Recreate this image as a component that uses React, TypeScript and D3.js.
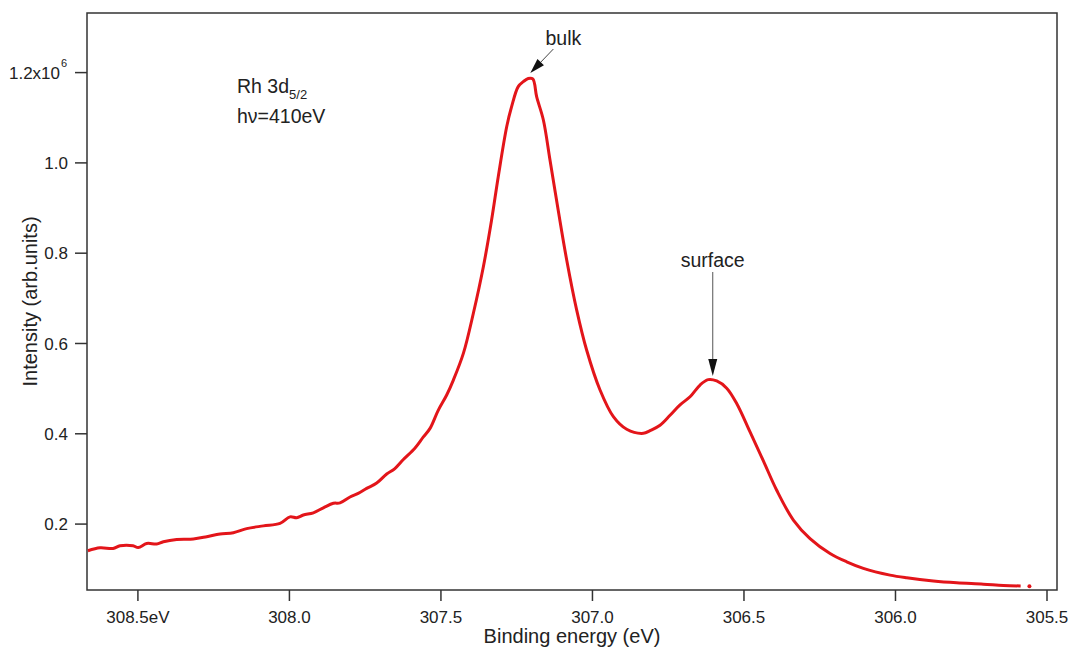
import React from "react";
import * as d3 from "d3";

// Binding energy (eV) and intensity (x10^6 arb. units)
const energy = [
  308.665, 308.625, 308.582, 308.559, 308.516, 308.499, 308.471, 308.438, 308.416, 308.372,
  308.317, 308.273, 308.229, 308.185, 308.141, 308.086, 308.031, 307.998, 307.976, 307.954,
  307.921, 307.888, 307.855, 307.833, 307.8, 307.773, 307.745, 307.712, 307.679, 307.652,
  307.624, 307.586, 307.558, 307.536, 307.509, 307.481, 307.459, 307.426, 307.393, 307.36,
  307.333, 307.311, 307.283, 307.267, 307.245, 307.228, 307.212, 307.197, 307.184, 307.162,
  307.14, 307.113, 307.085, 307.052, 307.019, 306.975, 306.931, 306.887, 306.832, 306.81,
  306.777, 306.744, 306.711, 306.678, 306.645, 306.618, 306.59, 306.557, 306.524, 306.48,
  306.436, 306.392, 306.337, 306.282, 306.216, 306.161, 306.106, 306.018, 305.963, 305.875,
  305.798, 305.71, 305.644, 305.587,
];
const intensity = [
  0.141, 0.1475, 0.146, 0.152, 0.152, 0.148, 0.157, 0.156, 0.161, 0.166,
  0.167, 0.172, 0.178, 0.181, 0.19, 0.196, 0.2015, 0.216, 0.214, 0.22,
  0.225, 0.236, 0.246, 0.247, 0.26, 0.268, 0.279, 0.291, 0.311, 0.323,
  0.343, 0.368, 0.393, 0.412, 0.452, 0.486, 0.519, 0.578, 0.667, 0.77,
  0.873, 0.969, 1.08, 1.124, 1.169, 1.18, 1.187, 1.186, 1.146, 1.095,
  1.006, 0.895, 0.785, 0.674, 0.585, 0.497, 0.438, 0.41, 0.401, 0.407,
  0.419, 0.441, 0.464, 0.482, 0.508, 0.52, 0.517, 0.501, 0.467, 0.404,
  0.34, 0.275, 0.209, 0.168, 0.135, 0.1165, 0.102, 0.087, 0.081, 0.074,
  0.07, 0.067, 0.064, 0.063,
];
const strayPoint = [305.558, 0.0625];

const xTicks = [308.5, 308.0, 307.5, 307.0, 306.5, 306.0, 305.5];
const xTickLabels = ["308.5eV", "308.0", "307.5", "307.0", "306.5", "306.0", "305.5"];
const yTicks = [0.2, 0.4, 0.6, 0.8, 1.0, 1.2];
const yTickLabels = ["0.2", "0.4", "0.6", "0.8", "1.0", "1.2x10"];

const bulkTip = [307.205, 1.199];
const surfaceTip = [306.603, 0.528];

const W = 1071;
const H = 650;
const left = 87, right = 1057, top = 13, bottom = 590;

export default function App() {
  const x = d3.scaleLinear().domain([308.668, 305.467]).range([left, right]);
  const y = d3.scaleLinear().domain([0.054, 1.332]).range([bottom, top]);
  const pts: [number, number][] = energy.map((e, i) => [e, intensity[i]]);
  const line = d3
    .line<[number, number]>()
    .x((d) => x(d[0]))
    .y((d) => y(d[1]))
    .curve(d3.curveCatmullRom.alpha(0.5));

  const font = "Liberation Sans, Arial, Helvetica, sans-serif";
  const axisColor = "#333";

  const bx = x(bulkTip[0]);
  const by = y(bulkTip[1]);
  const sx = x(surfaceTip[0]);
  const sy = y(surfaceTip[1]);

  // bulk arrow geometry
  const bStart = [bx + 23, by - 24];
  const ang = Math.atan2(by - bStart[1], bx - bStart[0]);
  const headLen = 15, headW = 4.5;
  const hb = [bx - headLen * Math.cos(ang), by - headLen * Math.sin(ang)];
  const perp = [-Math.sin(ang), Math.cos(ang)];
  const bulkHead = [
    [bx, by],
    [hb[0] + perp[0] * headW, hb[1] + perp[1] * headW],
    [hb[0] - perp[0] * headW, hb[1] - perp[1] * headW],
  ];

  return (
    <svg
      width={W}
      height={H}
      style={{ position: "fixed", left: 0, top: 0, background: "#fff" }}
      fontFamily={font}
    >
      <rect x={0} y={0} width={W} height={H} fill="#fff" />
      {/* frame */}
      <rect
        x={left}
        y={top}
        width={right - left}
        height={bottom - top}
        fill="none"
        stroke={axisColor}
        strokeWidth={1.5}
      />
      {/* y ticks */}
      {yTicks.map((t, i) => (
        <g key={"y" + t}>
          <line x1={left - 12} x2={left} y1={y(t)} y2={y(t)} stroke={axisColor} strokeWidth={1.5} />
          <text
            x={left - 19 - (i === yTicks.length - 1 ? 8 : 0)}
            y={y(t)}
            dy="0.36em"
            textAnchor="end"
            fontSize={17}
            fill="#222"
          >
            {yTickLabels[i]}
          </text>
          {i === yTicks.length - 1 && (
            <text x={left - 26} y={y(t) - 6} fontSize={11} fill="#222">
              6
            </text>
          )}
        </g>
      ))}
      {/* x ticks */}
      {xTicks.map((t, i) => (
        <g key={"x" + t}>
          <line x1={x(t)} x2={x(t)} y1={bottom} y2={bottom + 11} stroke={axisColor} strokeWidth={1.5} />
          <text x={x(t)} y={623} textAnchor="middle" fontSize={17} fill="#222">
            {xTickLabels[i]}
          </text>
        </g>
      ))}
      {/* axis titles */}
      <text x={(left + right) / 2 + 0} y={643} textAnchor="middle" fontSize={20} fill="#222">
        Binding energy (eV)
      </text>
      <text
        transform={`translate(37, ${(top + bottom) / 2}) rotate(-90)`}
        textAnchor="middle"
        fontSize={20}
        fill="#222"
      >
        Intensity (arb.units)
      </text>
      {/* curve */}
      <path d={line(pts) || ""} fill="none" stroke="#e3151a" strokeWidth={3} strokeLinejoin="round" />
      <circle cx={x(strayPoint[0])} cy={y(strayPoint[1])} r={2} fill="#e3151a" />
      {/* label */}
      <text x={237} y={93} fontSize={19.5} fill="#222">
        Rh 3d
        <tspan fontSize={13} dy={6}>5/2</tspan>
      </text>
      <text x={237} y={123} fontSize={19.5} fill="#222">
        hν=410eV
      </text>
      {/* bulk annotation */}
      <line x1={bStart[0]} y1={bStart[1]} x2={hb[0]} y2={hb[1]} stroke="#444" strokeWidth={1} />
      <polygon points={bulkHead.map((p) => p.join(",")).join(" ")} fill="#111" />
      <text x={bx + 33} y={by - 28} textAnchor="middle" fontSize={19.5} fill="#222">
        bulk
      </text>
      {/* surface annotation */}
      <line x1={sx} y1={272} x2={sx} y2={sy - 16} stroke="#555" strokeWidth={1} />
      <polygon
        points={`${sx},${sy} ${sx - 4.5},${sy - 17} ${sx + 4.5},${sy - 17}`}
        fill="#111"
      />
      <text x={sx} y={267} textAnchor="middle" fontSize={19.5} fill="#222">
        surface
      </text>
    </svg>
  );
}
